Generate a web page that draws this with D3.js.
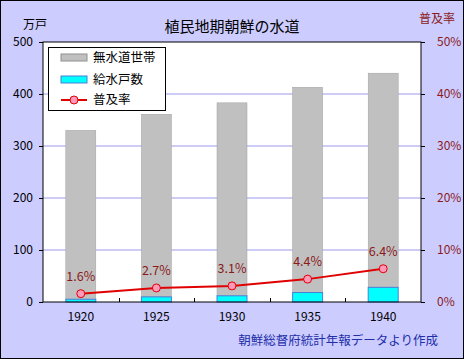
<!DOCTYPE html>
<html><head><meta charset="utf-8">
<script src="https://cdn.jsdelivr.net/npm/d3@7"></script>
<style>body{margin:0;background:#fff}svg{display:block}text{font-family:"Noto Sans CJK JP","Noto Sans",sans-serif}</style>
</head><body>
<script>
const years = ["1920","1925","1930","1935","1940"];
const noWater = [324.7, 351.2, 371.1, 394.8, 411.8];
const supplied = [5.3, 9.8, 11.9, 18.2, 28.2];
const rate = [1.6, 2.7, 3.1, 4.4, 6.4];
const rateLabels = ["1.6%","2.7%","3.1%","4.4%","6.4%"];
const leftTicks = [0,100,200,300,400,500];
const rightTicks = [0,10,20,30,40,50];

const W=464,H=359;
const m={l:43,r:421,t:42,b:302};
const svg=d3.select("body").append("svg").attr("width",W).attr("height",H);
svg.append("rect").attr("x",0.5).attr("y",0.5).attr("width",W-1).attr("height",H-1).attr("fill","#ccccff").attr("stroke","#000");
svg.append("rect").attr("x",m.l).attr("y",m.t).attr("width",m.r-m.l).attr("height",m.b-m.t).attr("fill","#fff");

const xb=d3.scaleBand().domain(years).range([m.l,m.r]);
const barW=30;
const cx=yr=>xb(yr)+xb.bandwidth()/2;
const y=d3.scaleLinear().domain([0,500]).range([m.b,m.t]);
const y2=d3.scaleLinear().domain([0,50]).range([m.b,m.t]);

// grid
svg.append("g").selectAll("line").data(leftTicks.slice(1,-1)).join("line")
 .attr("x1",m.l).attr("x2",m.r).attr("y1",d=>y(d)).attr("y2",d=>y(d)).attr("stroke","#9999ee");

// bars
years.forEach((yr,i)=>{
  svg.append("rect").attr("x",cx(yr)-barW/2).attr("width",barW).attr("y",y(supplied[i]+noWater[i])).attr("height",y(supplied[i])-y(supplied[i]+noWater[i])).attr("fill","#c0c0c0").attr("stroke","#a0a0a0").attr("stroke-width",0.5);
  svg.append("rect").attr("x",cx(yr)-barW/2).attr("width",barW).attr("y",y(supplied[i])).attr("height",y(0)-y(supplied[i])).attr("fill","#00ffff").attr("stroke","#4a7fd8").attr("stroke-width",1);
});

// plot border
svg.append("rect").attr("x",m.l).attr("y",m.t).attr("width",m.r-m.l).attr("height",m.b-m.t).attr("fill","none").attr("stroke","#000");

// axes
const gl=svg.append("g").attr("transform",`translate(${m.l},0)`).call(d3.axisLeft(y).tickValues(leftTicks).tickSize(4).tickPadding(6));
const gr=svg.append("g").attr("transform",`translate(${m.r},0)`).call(d3.axisRight(y2).tickValues(rightTicks).tickSize(4).tickPadding(12).tickFormat(d=>d+"%"));
const gx=svg.append("g").attr("transform",`translate(0,${m.b})`).call(d3.axisBottom(xb).tickSize(0).tickPadding(10));
[gl,gr,gx].forEach(g=>{g.select(".domain").remove();g.selectAll("text").attr("font-size",12).attr("fill","#000");g.selectAll("line").attr("stroke","#000");});
gr.selectAll("text").attr("fill","#8b1a1a");
// x tick marks at boundaries
svg.append("g").selectAll("line").data(years.slice(1)).join("line")
 .attr("x1",d=>Math.round(xb(d))+0.5).attr("x2",d=>Math.round(xb(d))+0.5).attr("y1",m.b).attr("y2",m.b-4).attr("stroke","#000");

// line
const line=d3.line().x((d,i)=>cx(years[i])).y(d=>y2(d));
svg.append("path").datum(rate).attr("d",line).attr("fill","none").attr("stroke","#e00000").attr("stroke-width",2);
svg.append("g").selectAll("circle").data(rate).join("circle")
 .attr("cx",(d,i)=>cx(years[i])).attr("cy",d=>y2(d)).attr("r",4).attr("fill","#ff99bb").attr("stroke","#e00000").attr("stroke-width",1);
svg.append("g").selectAll("text").data(rate).join("text")
 .attr("x",(d,i)=>cx(years[i])).attr("y",d=>y2(d)-13).attr("text-anchor","middle")
 .attr("font-size",12.5).attr("fill","#8b1a1a").text((d,i)=>rateLabels[i]);

// titles
svg.append("text").attr("x",232).attr("y",32).attr("text-anchor","middle").attr("font-size",15).text("植民地期朝鮮の水道");
svg.append("text").attr("x",35).attr("y",29).attr("text-anchor","middle").attr("font-size",12).text("万戸");
svg.append("text").attr("x",437).attr("y",23).attr("text-anchor","middle").attr("font-size",12).attr("fill","#8b1a1a").text("普及率");
svg.append("text").attr("x",438).attr("y",345).attr("text-anchor","end").attr("font-size",12.5).attr("fill","#1f2fa8").text("朝鮮総督府統計年報データより作成");

// legend
const lg=svg.append("g");
lg.append("rect").attr("x",48.5).attr("y",47.5).attr("width",117).attr("height",63).attr("fill","#fff").attr("stroke","#000");
lg.append("rect").attr("x",61).attr("y",54).attr("width",26).attr("height",7).attr("fill","#c0c0c0").attr("stroke","#909090");
lg.append("text").attr("x",93).attr("y",62).attr("font-size",12.5).text("無水道世帯");
lg.append("rect").attr("x",61).attr("y",76).attr("width",26).attr("height",7).attr("fill","#00ffff").attr("stroke","#4a7fd8");
lg.append("text").attr("x",93).attr("y",84).attr("font-size",12.5).text("給水戸数");
lg.append("line").attr("x1",61).attr("x2",87).attr("y1",100).attr("y2",100).attr("stroke","#e00000").attr("stroke-width",2);
lg.append("circle").attr("cx",74).attr("cy",100).attr("r",4).attr("fill","#ff99bb").attr("stroke","#e00000");
lg.append("text").attr("x",93).attr("y",104).attr("font-size",12.5).text("普及率");
</script>
</body></html>
